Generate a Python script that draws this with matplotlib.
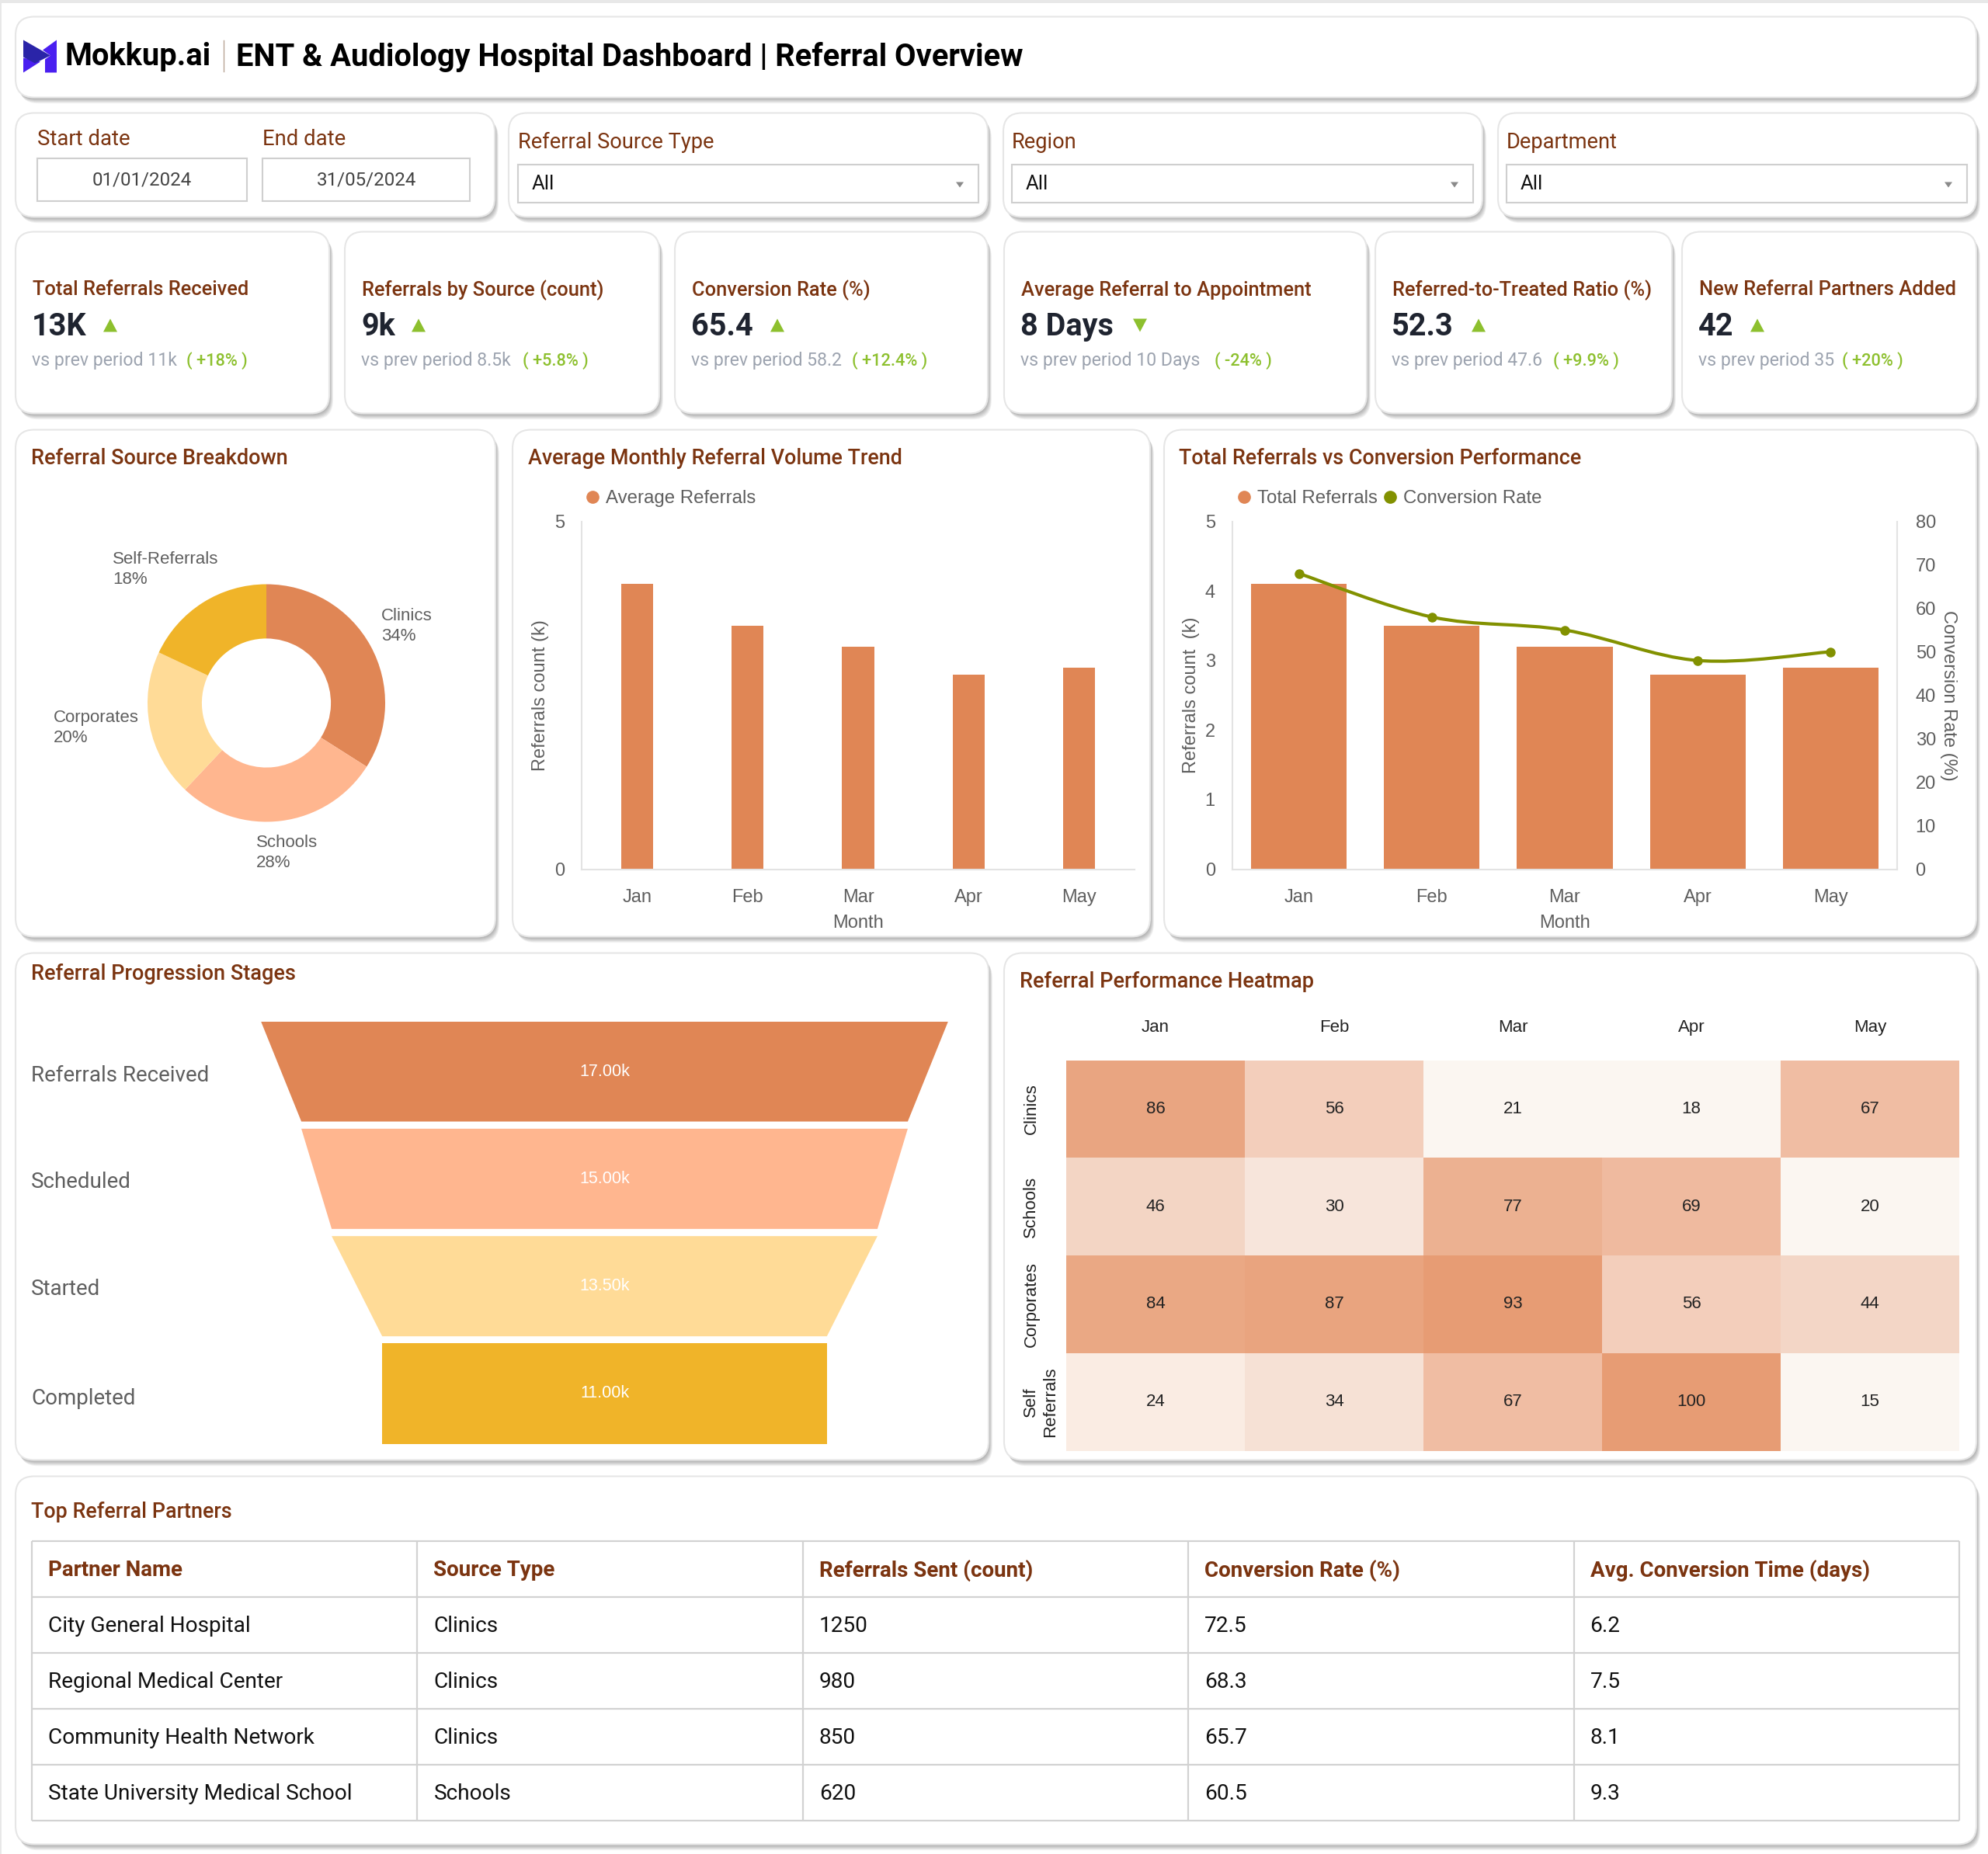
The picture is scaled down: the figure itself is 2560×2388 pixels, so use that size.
import matplotlib
matplotlib.use("Agg")
import matplotlib.pyplot as plt
import numpy as np
from matplotlib.colors import LinearSegmentedColormap
from matplotlib.lines import Line2D
from matplotlib.patches import FancyBboxPatch, PathPatch, Polygon, Rectangle
from matplotlib.path import Path

W, H = 2560, 2388
DY = 1.5  # everything sits a bit lower in the reference

# data
months = ["Jan", "Feb", "Mar", "Apr", "May"]
avg_referrals = [4.1, 3.5, 3.2, 2.8, 2.9]
total_referrals = [4.1, 3.5, 3.2, 2.8, 2.9]
conversion_rate = [68, 58, 55, 48, 50]

source_names = ["Clinics", "Schools", "Corporates", "Self-Referrals"]
source_share = [34, 28, 20, 18]

stage_names = ["Referrals Received", "Scheduled", "Started", "Completed"]
stage_values = [17.0, 15.0, 13.5, 11.0]

heat_rows = ["Clinics", "Schools", "Corporates", "Self\nReferrals"]
heat_values = [
    [86, 56, 21, 18, 67],
    [46, 30, 77, 69, 20],
    [84, 87, 93, 56, 44],
    [24, 34, 67, 100, 15],
]

kpi_titles = ["Total Referrals Received", "Referrals by Source (count)", "Conversion Rate (%)",
              "Average Referral to Appointment", "Referred-to-Treated Ratio (%)", "New Referral Partners Added"]
kpi_values = ["13K", "9k", "65.4", "8 Days", "52.3", "42"]
kpi_prev = ["vs prev period 11k", "vs prev period 8.5k", "vs prev period 58.2",
            "vs prev period 10 Days", "vs prev period 47.6", "vs prev period 35"]
kpi_change = ["( +18% )", "( +5.8% )", "( +12.4% )", "( -24% )", "( +9.9% )", "( +20% )"]
kpi_up = [True, True, True, False, True, True]

table_head = ["Partner Name", "Source Type", "Referrals Sent (count)", "Conversion Rate (%)", "Avg. Conversion Time (days)"]
table_rows = [
    ["City General Hospital", "Clinics", "1250", "72.5", "6.2"],
    ["Regional Medical Center", "Clinics", "980", "68.3", "7.5"],
    ["Community Health Network", "Clinics", "850", "65.7", "8.1"],
    ["State University Medical School", "Schools", "620", "60.5", "9.3"],
]

BROWN = "#7B3410"
ORANGE = "#E08655"
OLIVE = "#829100"
GREEN = "#8DC02E"
GREY = "#5F5F5F"
SOURCE_COLORS = ["#E08655", "#FFB68F", "#FFDB97", "#F0B429"]
UI = "Roboto"
CHART = "Liberation Sans"

fig = plt.figure(figsize=(W / 100, H / 100), dpi=100, facecolor="white")
bg = fig.add_axes([0, 0, 1, 1], zorder=0)
bg.set_xlim(0, W)
bg.set_ylim(H - DY, -DY)
bg.axis("off")


def axes_px(x0, y0, x1, y1):
    y0, y1 = y0 + DY, y1 + DY
    ax = fig.add_axes([x0 / W, 1 - y1 / H, (x1 - x0) / W, (y1 - y0) / H], zorder=1)
    ax.set_facecolor("none")
    return ax


def card(x0, y0, x1, y1):
    for i in range(7, 0, -1):
        bg.add_patch(FancyBboxPatch((x0 + i * 0.7, y0 + i * 1.1), x1 - x0, y1 - y0,
                                    boxstyle="round,pad=0,rounding_size=24", fc="black", ec="none", alpha=0.05))
    bg.add_patch(FancyBboxPatch((x0, y0), x1 - x0, y1 - y0, boxstyle="round,pad=0,rounding_size=24",
                                fc="white", ec="#E6E6E6", lw=1.5))


def txt(x, y, s, size, color="#222222", weight="normal", ha="left", family=UI, **kw):
    return bg.text(x, y + 3, s, fontsize=size, color=color, fontweight=weight, ha=ha, va="center",
                   family=family, **kw)


def box(x0, y0, x1, y1):
    bg.add_patch(Rectangle((x0, y0), x1 - x0, y1 - y0, fc="white", ec="#CFCFCF", lw=1.5))


# page edge
bg.add_patch(Rectangle((0, -DY), W, 3.5, fc="#E8E8E8", ec="none"))
bg.add_patch(Rectangle((0, -DY), 2, H, fc="#E8E8E8", ec="none"))

# header
card(20, 20, 2545, 124)
bg.add_patch(Polygon([(30, 73), (52, 78), (30, 92)], fc="#4A1FF0", ec="none"))
bg.add_patch(Polygon([(73, 50), (73, 92), (58, 92), (58, 75), (65, 70), (55, 63)], fc="#4A1FF0", ec="none"))
bg.add_patch(Polygon([(30, 50), (65, 70), (45, 80), (30, 72)], fc="#2A24A8", ec="none"))
txt(84, 69, "Mokkup.ai", 28.7, "black", "bold")
bg.plot([288, 288], [50, 90], color="#B9A596", lw=1.0)
txt(304, 69, "ENT & Audiology Hospital Dashboard | Referral Overview", 28.7, "black", "bold")

# filters
filter_cards = [(20, 637), (655, 1272), (1292, 1909), (1929, 2545)]
for x0, x1 in filter_cards:
    card(x0, 144, x1, 278)
txt(48, 175, "Start date", 19.8, BROWN)
txt(338, 175, "End date", 19.8, BROWN)
box(48, 202, 318, 257)
box(338, 202, 605, 257)
txt(183, 227, "01/01/2024", 17.4, "#444444", ha="center")
txt(472, 227, "31/05/2024", 17.4, "#444444", ha="center")
for x0, x1, label in [(667, 1260, "Referral Source Type"), (1303, 1897, "Region"), (1940, 2533, "Department")]:
    txt(x0, 179, label, 19.6, BROWN)
    box(x0, 210, x1, 259)
    txt(x0 + 18, 232, "All", 18.5, "#111111")
    bg.add_patch(Polygon([(x1 - 29, 233), (x1 - 19, 233), (x1 - 24, 240)], fc="#8A8A8A", ec="none"))

# kpi cards
kpi_cards = [(20, 424), (444, 849), (869, 1272), (1293, 1760), (1771, 2153), (2166, 2545)]
kpi_arrow = [142, 539, 1001, 1468, 1904, 2263]
kpi_change_x = [240, 673, 1097, 1564, 2000, 2372]
for i, (x0, x1) in enumerate(kpi_cards):
    card(x0, 297, x1, 531)
    txt(x0 + 22, 369, kpi_titles[i], 18.4, BROWN, "medium")
    txt(x0 + 21, 417, kpi_values[i], 28.5, "#1F2430", "bold")
    ax_ = kpi_arrow[i]
    if kpi_up[i]:
        tri = [(ax_ - 9, 426), (ax_ + 9, 426), (ax_, 409)]
    else:
        tri = [(ax_ - 9, 409), (ax_ + 9, 409), (ax_, 426)]
    bg.add_patch(Polygon(tri, fc=GREEN, ec="none"))
    txt(x0 + 21, 460, kpi_prev[i], 16.6, "#9CA3AF")
    txt(kpi_change_x[i], 460, kpi_change[i], 15.7, GREEN, "medium")

# chart cards
card(20, 552, 638, 1205)
card(660, 552, 1481, 1205)
card(1499, 552, 2545, 1205)
card(20, 1226, 1273, 1879)
card(1293, 1226, 2545, 1879)
card(20, 1900, 2545, 2374)
txt(40, 586, "Referral Source Breakdown", 19.5, BROWN, "medium")
txt(680, 586, "Average Monthly Referral Volume Trend", 19.4, BROWN, "medium")
txt(1518, 586, "Total Referrals vs Conversion Performance", 19.4, BROWN, "medium")
txt(40, 1250, "Referral Progression Stages", 19.5, BROWN, "medium")
txt(1313, 1260, "Referral Performance Heatmap", 19.5, BROWN, "medium")
txt(40, 1943, "Top Referral Partners", 19.4, BROWN, "medium")

# donut
ax_pie = axes_px(190, 751, 496, 1057)
ax_pie.pie(source_share, colors=SOURCE_COLORS, startangle=90, counterclock=False, radius=1,
           wedgeprops=dict(width=0.457, edgecolor="none"))
ax_pie.set_xlim(-1, 1)
ax_pie.set_ylim(-1, 1)
pie_label_pos = [(491, 802), (330, 1094), (69, 933), (145, 729)]
for name, share, (lx, ly) in zip(source_names, source_share, pie_label_pos):
    txt(lx, ly, f"{name}\n{share}%", 16, GREY, family=CHART, linespacing=1.35)


def style_axis(ax):
    for s in ["top", "right"]:
        ax.spines[s].set_visible(False)
    for s in ["left", "bottom"]:
        ax.spines[s].set_color("#E3E3E3")
        ax.spines[s].set_linewidth(1.5)
    ax.tick_params(length=0, labelsize=17, labelcolor=GREY, pad=16)
    for t in ax.get_xticklabels() + ax.get_yticklabels():
        t.set_family(CHART)


def legend_dot(color, label):
    return Line2D([], [], ls="none", marker="o", ms=11, color=color, label=label)


# monthly volume bars
ax1 = axes_px(749, 670, 1461, 1118)
ax1.bar(months, avg_referrals, width=0.29, color=ORANGE)
ax1.set_xlim(-0.5, 4.5)
ax1.set_ylim(0, 5)
ax1.set_yticks([0, 5])
style_axis(ax1)
ax1.tick_params(axis="x", pad=18.5)
ax1.set_xlabel("Month", fontsize=17, color=GREY, family=CHART, labelpad=8)
ax1.set_ylabel("Referrals count (k)", fontsize=17, color=GREY, family=CHART)
ax1.yaxis.set_label_coords(-0.059, 0.5)
ax1.legend(handles=[legend_dot(ORANGE, "Average Referrals")], loc="center left", bbox_to_anchor=(0.006, 1.065),
           frameon=False, borderpad=0, borderaxespad=0, handlelength=0.8, handletextpad=0.3,
           prop=dict(family=CHART, size=17.3), labelcolor=GREY)

# combo chart
ax2 = axes_px(1587, 670, 2443, 1118)
ax2.bar(months, total_referrals, width=0.72, color=ORANGE)
ax2.set_xlim(-0.5, 4.5)
ax2.set_ylim(0, 5)
ax2.set_yticks(range(6))
style_axis(ax2)
ax2.tick_params(axis="x", pad=18.5)
ax2.set_xlabel("Month", fontsize=17, color=GREY, family=CHART, labelpad=8)
ax2.set_ylabel("Referrals count  (k)", fontsize=17, color=GREY, family=CHART)
ax2.yaxis.set_label_coords(-0.049, 0.5)

ax3 = ax2.twinx()
ax3.set_facecolor("none")
ax3.set_ylim(0, 80)
ax3.set_yticks(range(0, 81, 10))
ax3.tick_params(length=0, labelsize=17, labelcolor=GREY, pad=17)
for t in ax3.get_yticklabels():
    t.set_family(CHART)
for s in ["top", "left", "bottom"]:
    ax3.spines[s].set_visible(False)
ax3.spines["right"].set_color("#E3E3E3")
ax3.spines["right"].set_linewidth(1.5)
ax3.set_ylabel("Conversion Rate (%)", fontsize=17, color=GREY, family=CHART, rotation=270, va="center")
ax3.yaxis.set_label_coords(1.077, 0.5)

# smooth line through the monthly points
xs = np.arange(len(months), dtype=float)
ys = np.array(conversion_rate, dtype=float)
verts = [(xs[0], ys[0])]
codes = [Path.MOVETO]
for i in range(len(xs) - 1):
    before = max(i - 1, 0)
    after = min(i + 2, len(xs) - 1)
    c1 = (xs[i] + (xs[i + 1] - xs[before]) * 0.17, ys[i] + (ys[i + 1] - ys[before]) * 0.17)
    c2 = (xs[i + 1] - (xs[after] - xs[i]) * 0.17, ys[i + 1] - (ys[after] - ys[i]) * 0.17)
    verts += [c1, c2, (xs[i + 1], ys[i + 1])]
    codes += [Path.CURVE4] * 3
ax3.add_patch(PathPatch(Path(verts, codes), fc="none", ec=OLIVE, lw=3))
ax3.plot(months, conversion_rate, ls="none", marker="o", ms=8, color=OLIVE)
ax3.legend(handles=[legend_dot(ORANGE, "Total Referrals"), legend_dot(OLIVE, "Conversion Rate")],
           loc="center left", bbox_to_anchor=(0.006, 1.065), ncol=2, frameon=False, borderpad=0, borderaxespad=0,
           handlelength=0.8, handletextpad=0.3, columnspacing=0.28,
           prop=dict(family=CHART, size=17.3), labelcolor=GREY)

# funnel
ax_f = axes_px(336, 1314, 1221, 1858)
seg_h = 0.933
for i, val in enumerate(stage_values):
    low = stage_values[i + 1] if i + 1 < len(stage_values) else val
    ax_f.fill([-val / 2, val / 2, low / 2, -low / 2], [i, i, i + seg_h, i + seg_h],
              color=SOURCE_COLORS[i], lw=0)
    ax_f.text(0, i + seg_h / 2, f"{val:.2f}k", ha="center", va="center", color="white",
              fontsize=15.5, family=CHART)
ax_f.set_xlim(-8.5, 8.5)
ax_f.set_ylim(len(stage_values) - 1 + seg_h, 0)
ax_f.axis("off")
for name, ly in zip(stage_names, [1381, 1518, 1656, 1797]):
    txt(40, ly, name, 20, GREY)

# heatmap
heat_nodes = [(0, "#FBF6F1"), (0.07, "#FBF6F1"), (0.106, "#FAECE3"), (0.18, "#F7E5DB"), (0.34, "#F3D6C6"),
              (0.48, "#F3CEBB"), (0.61, "#F0BDA3"), (0.84, "#E9A580"), (0.92, "#E79C74"), (1, "#E79C74")]
heat_cmap = LinearSegmentedColormap.from_list("heat", heat_nodes)
ax_h = axes_px(1373, 1364, 2523, 1867)
ax_h.pcolormesh(heat_values, cmap=heat_cmap, vmin=15, vmax=100)
ax_h.invert_yaxis()
ax_h.xaxis.tick_top()
ax_h.set_xticks(np.arange(5) + 0.5, months)
ax_h.set_yticks(np.arange(4) + 0.5, heat_rows, rotation=90, va="center", ha="left", multialignment="center")
ax_h.tick_params(length=0, labelsize=16, labelcolor="#222222")
ax_h.tick_params(axis="x", pad=22.6)
ax_h.tick_params(axis="y", pad=40)
for t in ax_h.get_xticklabels() + ax_h.get_yticklabels():
    t.set_family(CHART)
for s in ax_h.spines.values():
    s.set_visible(False)
for r, row in enumerate(heat_values):
    for c, v in enumerate(row):
        ax_h.text(c + 0.5, r + 0.5, str(v), ha="center", va="center", fontsize=16, color="#222222", family=CHART)

# table
col_x = np.linspace(41, 2523, 6)
row_y = np.linspace(1983, 2343, 6)
bg.vlines(col_x, row_y[0], row_y[-1], color="#D2D2D2", lw=1.6)
bg.hlines(row_y, col_x[0], col_x[-1], color="#D2D2D2", lw=1.6)
for c, head in enumerate(table_head):
    txt(col_x[c] + 21, (row_y[0] + row_y[1]) / 2 - 1, head, 20, BROWN, "bold")
for r, row in enumerate(table_rows):
    for c, cell in enumerate(row):
        txt(col_x[c] + 21, (row_y[r + 1] + row_y[r + 2]) / 2 - 1, cell, 20.2, "#111111")

fig.savefig("out.png", dpi=100)
